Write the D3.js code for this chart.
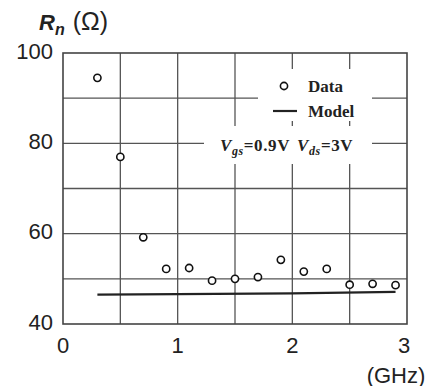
<!DOCTYPE html>
<html>
<head>
<meta charset="utf-8">
<script src="https://cdn.jsdelivr.net/npm/d3@7"></script>
<style>
  body { margin: 0; background: #fff; }
  svg { display: block; }
  .tick-label { font-family: "Liberation Sans", Arial, sans-serif; font-size: 22px; fill: #222; }
  .legend { font-family: "Liberation Serif", "Times New Roman", serif; font-weight: bold; font-size: 17px; fill: #222; }
</style>
</head>
<body>
<div id="chart"></div>
<script>
// measured data (GHz, Ohm)
const freq = [0.3, 0.5, 0.7, 0.9, 1.1, 1.3, 1.5, 1.7, 1.9, 2.1, 2.3, 2.5, 2.7, 2.9];
const rnData = [94.5, 77, 59.2, 52.2, 52.4, 49.6, 50, 50.4, 54.2, 51.6, 52.2, 48.7, 48.9, 48.6];
const modelFreq = [0.3, 1.0, 2.0, 2.9];
const modelRn = [46.5, 46.6, 46.8, 47.1];
const xTicks = [0, 1, 2, 3];
const yTicks = [40, 60, 80, 100];

const width = 432, height = 386;
const mLeft = 63, mRight = 407, mTop = 53, mBottom = 324;

const x = d3.scaleLinear().domain([0, 3]).range([mLeft, mRight]);
const y = d3.scaleLinear().domain([40, 100]).range([mBottom, mTop]);

const svg = d3.select('#chart')
  .append('svg')
  .attr('width', width)
  .attr('height', height);

// grid
const grid = svg.append('g')
grid.selectAll('line.v')
  .data(d3.range(0.5, 3, 0.5))
  .enter()
  .append('line')
  .attr('x1', d => x(d)).attr('x2', d => x(d))
  .attr('y1', mTop).attr('y2', mBottom)
  .attr('stroke', '#555').attr('stroke-width', 1.3)

grid.selectAll('line.h')
  .data(d3.range(50, 100, 10))
  .enter()
  .append('line')
  .attr('x1', mLeft).attr('x2', mRight)
  .attr('y1', d => y(d)).attr('y2', d => y(d))
  .attr('stroke', '#555').attr('stroke-width', 1.3)

// legend background boxes hide the grid
svg.append('rect').attr('x', 258).attr('y', 69).attr('width', 114).attr('height', 52).attr('fill', '#fff')
svg.append('rect').attr('x', 204).attr('y', 126).attr('width', 168).attr('height', 38).attr('fill', '#fff')

// frame
svg.append('rect')
  .attr('x', mLeft).attr('y', mTop)
  .attr('width', mRight - mLeft).attr('height', mBottom - mTop)
  .attr('fill', 'none').attr('stroke', '#444').attr('stroke-width', 1.6)

// model line
const line = d3.line().x((d, i) => x(modelFreq[i])).y(d => y(d))
svg.append('path')
  .attr('d', line(modelRn))
  .attr('fill', 'none').attr('stroke', '#222').attr('stroke-width', 2.2)

// data points
svg.append('g')
  .selectAll('circle')
  .data(rnData)
  .enter()
  .append('circle')
  .attr('cx', (d, i) => x(freq[i]))
  .attr('cy', d => y(d))
  .attr('r', 3.6)
  .attr('fill', '#fff').attr('stroke', '#111').attr('stroke-width', 1.6)

// axis labels
svg.append('g')
  .selectAll('text')
  .data(yTicks)
  .enter()
  .append('text')
  .attr('class', 'tick-label')
  .attr('x', 53)
  .attr('y', d => y(d) - 2)
  .attr('text-anchor', 'end')
  .attr('dominant-baseline', 'central')
  .text(d => d)

svg.append('g')
  .selectAll('text')
  .data(xTicks)
  .enter()
  .append('text')
  .attr('class', 'tick-label')
  .attr('x', (d, i) => x(d) - (i === 3 ? 3 : 0))
  .attr('y', 345)
  .attr('text-anchor', 'middle')
  .attr('dominant-baseline', 'central')
  .text(d => d)

svg.append('text')
  .attr('class', 'tick-label')
  .attr('font-size', 24)
  .attr('x', 396).attr('y', 375)
  .attr('text-anchor', 'middle')
  .attr('dominant-baseline', 'central')
  .text('(GHz)')

const title = svg.append('text')
  .attr('class', 'tick-label')
  .attr('x', 39).attr('y', 30)
title.append('tspan').attr('font-weight', 'bold').attr('font-style', 'italic').text('R')
title.append('tspan').attr('font-weight', 'bold').attr('font-style', 'italic').attr('font-size', 16).attr('dy', 5).text('n')
title.append('tspan').attr('dy', -5).attr('dx', 8).attr('font-size', 25).text('(Ω)')

// legend
svg.append('circle')
  .attr('cx', 284).attr('cy', 86).attr('r', 3.6)
  .attr('fill', '#fff').attr('stroke', '#111').attr('stroke-width', 1.6)
svg.append('text').attr('class', 'legend').attr('x', 308).attr('y', 92).text('Data')
svg.append('line')
  .attr('x1', 273).attr('x2', 297).attr('y1', 111).attr('y2', 111)
  .attr('stroke', '#222').attr('stroke-width', 2.2)
svg.append('text').attr('class', 'legend').attr('x', 308).attr('y', 117).text('Model')

const cond = svg.append('text').attr('class', 'legend').attr('x', 220).attr('y', 151)
  .attr('letter-spacing', 0.6)
cond.append('tspan').attr('font-style', 'italic').text('V')
cond.append('tspan').attr('font-style', 'italic').attr('font-size', 12).attr('dy', 4).text('gs')
cond.append('tspan').attr('dy', -4).text('=0.9V')
cond.append('tspan').attr('font-style', 'italic').attr('dx', 7).text('V')
cond.append('tspan').attr('font-style', 'italic').attr('font-size', 12).attr('dy', 4).text('ds')
cond.append('tspan').attr('dy', -4).text('=3V')
</script>
</body>
</html>
